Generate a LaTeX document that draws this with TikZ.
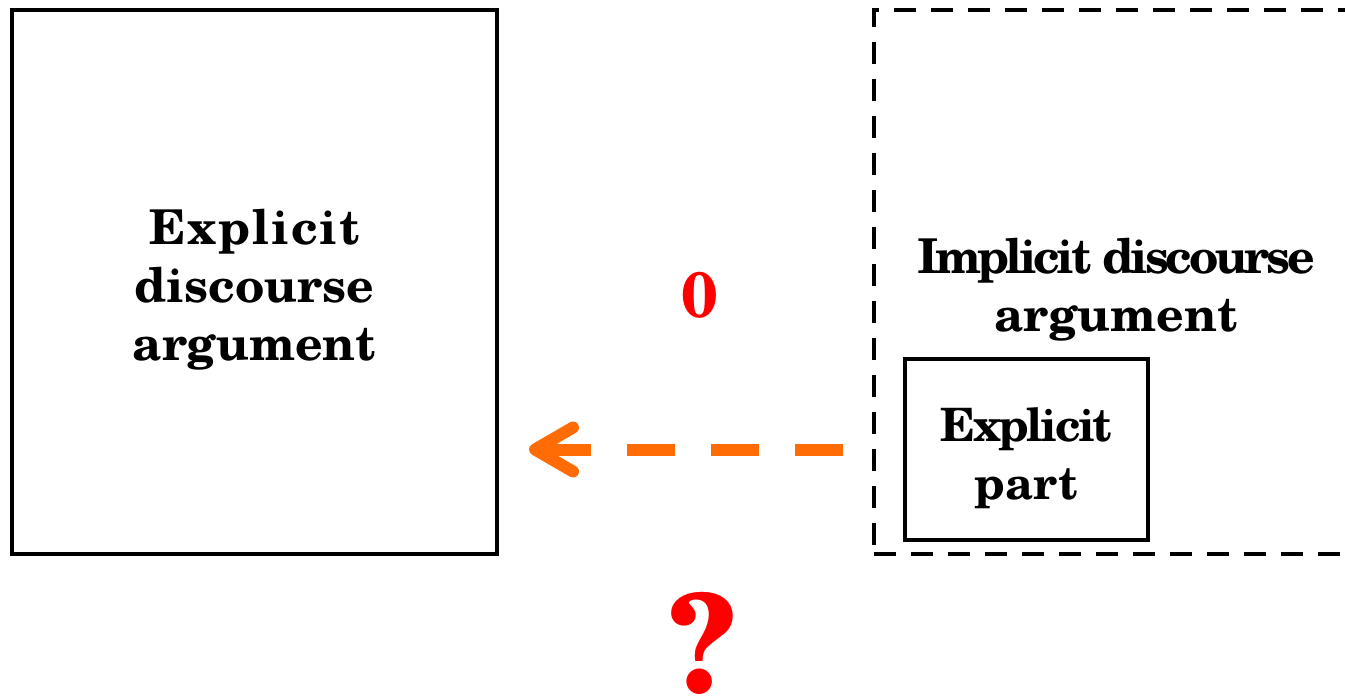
\documentclass[tikz,border=0pt]{standalone}
\usepackage{fontspec}
\setmainfont{TeX Gyre Schola}
\usetikzlibrary{arrows.meta}

\definecolor{arroworange}{RGB}{255,108,5}

\begin{document}
\begin{tikzpicture}[x=0.5pt, y=-0.5pt,
	argbox/.style={draw, line width=2pt, inner sep=0pt},
	dashbox/.style={draw, line width=1.9pt, dash pattern=on 11pt off 7.5pt, inner sep=0pt},
	redmark/.style={text=red, inner sep=0pt, font=\bfseries}]
	% --- page size
	\useasboundingbox (0,0) rectangle (1345,700);
	\clip (0,0) rectangle (1345,700);

	% --- draw the boxes
	\node[argbox, minimum width=242.5pt, minimum height=272pt,
		label={[yshift=-4pt, align=center, font=\bfseries\fontsize{24}{29}\selectfont]center:%
		\addfontfeatures{LetterSpace=4}Explicit\\discourse\\argument}] (expl) at (254.5,282) {};
	\node[dashbox, minimum width=263pt, minimum height=272pt] (impl) at (1137,282) {};
	\node[align=center, font=\bfseries\fontsize{24}{29}\selectfont] (impltext) at (1116,290)
		{\addfontfeatures{LetterSpace=-7}Implicit discourse\\argument};
	\node[argbox, minimum width=121.5pt, minimum height=90.5pt,
		label={[yshift=-4.5pt, align=center, font=\bfseries\fontsize{23}{29}\selectfont]center:%
		\addfontfeatures{LetterSpace=-5.5}Explicit\\part}] (part) at (1026.5,449.5) {};

	% --- draw the arrow
	\draw[arroworange, line width=6pt, dash pattern=on 24pt off 18pt,
		-{Straight Barb[length=19pt, width=22pt, round]},
		shorten <=14.5pt, shorten >=15pt]
		(impl.west |- part.center) -- (expl.east |- part.center);

	% --- draw the marks
	\node[redmark, font=\bfseries\fontsize{32}{32}\selectfont] (zero) at (700,295) {0};
	\node[redmark, font=\bfseries\fontsize{68}{68}\selectfont] (qmark) at (702,643) {?};
\end{tikzpicture}
\end{document}
